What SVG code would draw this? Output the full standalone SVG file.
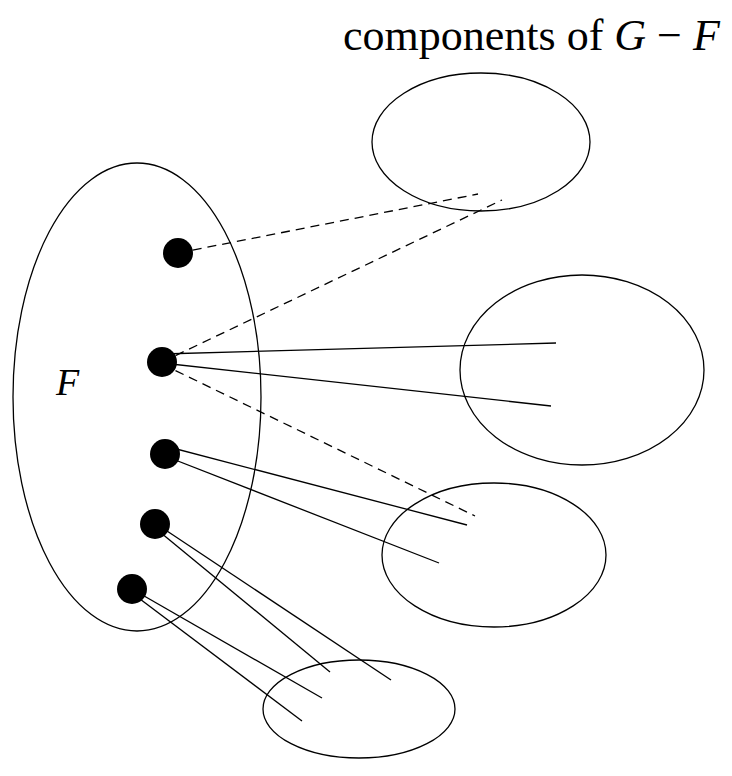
<svg xmlns="http://www.w3.org/2000/svg" width="732" height="776" viewBox="0 0 732 776">
<style>
.ell{fill:none;stroke:#000;stroke-width:1.3}
.ln{stroke:#000;stroke-width:1.3;fill:none}
.dash{stroke-dasharray:9 6}
.dot{fill:#000}
.t{font-family:"Liberation Serif","DejaVu Serif",serif;fill:#000}
.title{font-size:44px}
.flabel{font-size:38px;font-style:italic}
</style>
<rect width="732" height="776" fill="#fff"/>
<g id="connectors">
<line class="ln dash" x1="178" y1="253" x2="478" y2="194"/>
<line class="ln dash" x1="162" y1="362" x2="502" y2="200"/>
<line class="ln" x1="162" y1="354" x2="556" y2="343"/>
<line class="ln" x1="162" y1="363" x2="551" y2="406"/>
<line class="ln dash" x1="162" y1="364" x2="475" y2="516"/>
<line class="ln" x1="165" y1="446" x2="467" y2="525"/>
<line class="ln" x1="165" y1="456" x2="439" y2="563"/>
<line class="ln" x1="155" y1="523" x2="391" y2="680"/>
<line class="ln" x1="155" y1="528" x2="330" y2="672"/>
<line class="ln" x1="132" y1="589" x2="322" y2="698"/>
<line class="ln" x1="132" y1="593" x2="302" y2="721"/>
</g>
<g id="F">
<ellipse class="ell" cx="137" cy="397" rx="124" ry="234"/>
<text class="t flabel" x="56" y="395">F</text>
</g>
<g id="comp1"><ellipse class="ell" cx="481" cy="142" rx="109" ry="69"/></g>
<g id="comp2"><ellipse class="ell" cx="582" cy="370" rx="122" ry="95"/></g>
<g id="comp3"><ellipse class="ell" cx="494" cy="555" rx="112" ry="72"/></g>
<g id="comp4"><ellipse class="ell" cx="359" cy="709" rx="96" ry="49"/></g>
<g id="dots">
<circle class="dot" cx="178" cy="253" r="15"/>
<circle class="dot" cx="162" cy="362" r="15"/>
<circle class="dot" cx="165" cy="454" r="15"/>
<circle class="dot" cx="155" cy="524" r="15"/>
<circle class="dot" cx="132" cy="589" r="15"/>
</g>
<g id="title">
<text class="t title" x="343" y="50">components of <tspan font-style="italic">G</tspan> − <tspan font-style="italic">F</tspan></text>
</g>
</svg>
